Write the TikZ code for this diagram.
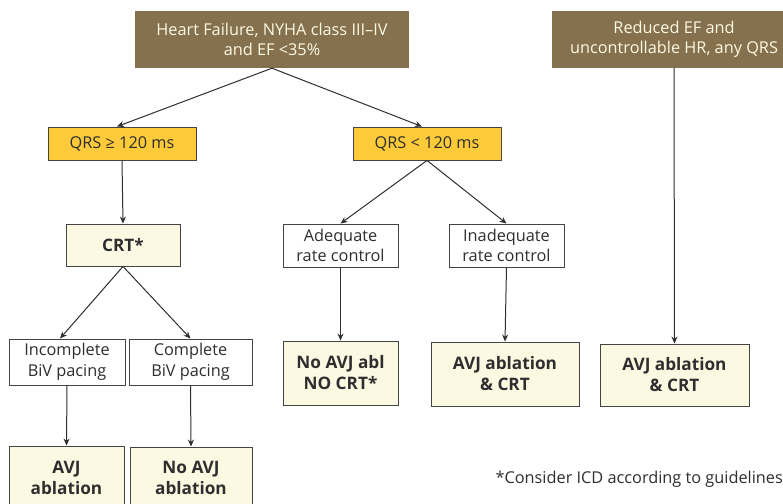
\documentclass[tikz,border=0pt]{standalone}
\usepackage{fontspec}
\setmainfont{Open Sans}
\usetikzlibrary{arrows.meta}
\definecolor{brownbox}{HTML}{85714E}
\definecolor{goldbox}{HTML}{FDCB3A}
\definecolor{creambox}{HTML}{FCF9E3}
\definecolor{txt}{HTML}{2E2E2E}
\definecolor{edge}{HTML}{444444}
\tikzset{
  base/.style={align=center, inner sep=0pt, text=txt, font=\fontsize{16.3}{20.5}\selectfont},
  headbox/.style={base, fill=brownbox, text=creambox},
  qrsbox/.style={base, fill=goldbox, draw=edge, line width=0.9pt},
  plainbox/.style={base, fill=white, draw=edge, line width=0.9pt},
  resbox/.style={base, fill=creambox, draw=edge, line width=0.9pt, font=\fontsize{17.2}{21}\selectfont\bfseries},
  arr/.style={draw=txt, line width=1pt, -{Stealth[length=7pt,width=6pt]}}
}
\begin{document}
\begin{tikzpicture}[x=1pt,y=-1pt]
\useasboundingbox (0,0) rectangle (783,503);
\clip (0,0) rectangle (783,503);
\node[headbox, minimum width=274pt, minimum height=57pt] (hf) at (272,39.5) {Heart Failure, NYHA class III–IV\\and EF <35\%};
\node[headbox, minimum width=244pt, minimum height=57pt] (red) at (674,39.5) {Reduced EF and\\uncontrollable HR, any QRS};
\node[qrsbox, minimum width=148pt, minimum height=33pt] (q1) at (122,143.5) {QRS ≥ 120 ms};
\node[qrsbox, minimum width=148pt, minimum height=33pt] (q2) at (427,143.5) {QRS < 120 ms};
\node[resbox, minimum width=114pt, minimum height=42pt] (crt) at (123,245) {CRT*};
\node[plainbox, minimum width=115pt, minimum height=43pt] (ade) at (340.5,245.5) {Adequate\\rate control};
\node[plainbox, minimum width=115pt, minimum height=43pt] (inade) at (506.5,245.5) {Inadequate\\rate control};
\node[plainbox, minimum width=116pt, minimum height=46pt] (inc) at (67,362) {Incomplete\\BiV pacing};
\node[plainbox, minimum width=123pt, minimum height=46pt] (comp) at (190.5,362) {Complete\\BiV pacing};
\node[resbox, minimum width=115pt, minimum height=64pt] (noabl) at (340.5,373) {No AVJ abl\\NO CRT*};
\node[resbox, minimum width=148pt, minimum height=64pt] (avjcrt1) at (505,374) {AVJ ablation\\\& CRT};
\node[resbox, minimum width=149pt, minimum height=62pt] (avjcrt2) at (674.5,375) {AVJ ablation\\\& CRT};
\node[resbox, minimum width=115pt, minimum height=64pt] (avj) at (66.5,478) {AVJ\\ablation};
\node[resbox, minimum width=122pt, minimum height=62pt] (noavj) at (191,478) {No AVJ\\ablation};
\node[base, anchor=east] (note) at (783,479) {*Consider ICD according to guidelines};
\draw[arr] (hf.south) -- ([xshift=-5pt]q1.north);
\draw[arr] (hf.south) -- ([xshift=-5pt]q2.north);
\draw[arr] (q1.south) -- (crt.north);
\draw[arr] (q2.south) -- (ade.north);
\draw[arr] (q2.south) -- (inade.north);
\draw[arr] (crt.south) -- ([xshift=-7pt]inc.north);
\draw[arr] (crt.south) -- (comp.north);
\draw[arr] (inc.south) -- (avj.north);
\draw[arr] (comp.south) -- (noavj.north);
\draw[arr] (ade.south) -- (noabl.north);
\draw[arr] (inade.south) -- (avjcrt1.north);
\draw[arr] (red.south) -- (avjcrt2.north);
\end{tikzpicture}
\end{document}
